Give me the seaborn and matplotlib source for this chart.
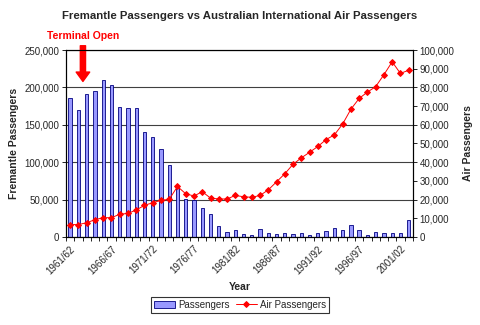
import matplotlib
matplotlib.use("Agg")
import matplotlib.pyplot as plt
import seaborn as sns
import numpy as np
import pandas as pd
from matplotlib.ticker import FuncFormatter, MultipleLocator, FixedLocator

years = [f"{y}/{str(y + 1)[-2:]}" for y in range(1961, 2003)]

passengers = [185300, 169800, 191100, 195600, 209800, 203100, 173800, 172000, 172000,
              140400, 134200, 117800, 96400, 67600, 51000, 49000, 39000, 30700,
              14200, 7100, 9300, 4400, 2700, 10200, 4900, 3600, 5800, 3600, 4900,
              3100, 4900, 8400, 12400, 9800, 15600, 9300, 3100, 7100, 4900, 4900,
              4900, 22200]

air_passengers = [6600, 6600, 7600, 9200, 10300, 10300, 12100, 12600, 14400, 16900,
                  18300, 19600, 20100, 27000, 23100, 21900, 24200, 20800, 20300, 20300,
                  22200, 21500, 21200, 22200, 25200, 29500, 33800, 38900, 42300, 45300,
                  48400, 52100, 54600, 60400, 68300, 74100, 77500, 80400, 86800, 93700,
                  87500, 89200]

df = pd.DataFrame({"Year": years, "Passengers": passengers,
                   "Air Passengers": air_passengers, "pos": np.arange(len(years))})

sns.set_style("white")
plt.rcParams['font.family'] = ['Liberation Sans', 'DejaVu Sans']

fig = plt.figure(figsize=(4.8, 3.25), dpi=100)
ax = fig.add_axes([0.1375, 0.271, 0.7225, 0.575])

sns.barplot(data=df, x="Year", y="Passengers", ax=ax, color="#9999FF",
            edgecolor="#000080", linewidth=0.6, width=0.4, saturation=1,
            label="Passengers")
ax.set_xlim(-0.5, len(years) - 0.5)
ax.set_ylim(0, 250000)
ax.yaxis.set_major_locator(MultipleLocator(50000))
ax.yaxis.set_major_formatter(FuncFormatter(lambda v, p: f"{int(v):,}"))
ax.grid(axis="y", color="#404040", linewidth=0.8)
ax.set_axisbelow(True)

ax2 = ax.twinx()
sns.lineplot(data=df, x="pos", y="Air Passengers", ax=ax2, color="#FF0000",
             linewidth=0.7, marker="D", markersize=3, markeredgecolor="#FF0000",
             label="Air Passengers")
ax2.set_ylim(0, 100000)
ax2.yaxis.set_major_locator(MultipleLocator(10000))
ax2.yaxis.set_major_formatter(FuncFormatter(lambda v, p: f"{int(v):,}"))
ax2.set_xlim(-0.5, len(years) - 0.5)

ax.set_xticks(range(len(years)))
ax.set_xticklabels([y if i % 5 == 0 else "" for i, y in enumerate(years)],
                   rotation=45, ha="right", rotation_mode="anchor", fontsize=7)
ax.xaxis.set_minor_locator(FixedLocator(np.arange(-0.5, len(years), 1.0)))
for a in (ax, ax2):
    for s in a.spines.values():
        s.set_color("#000000")
        s.set_linewidth(0.8)
    a.tick_params(axis="both", which="major", length=3, width=0.6, color="black",
                  labelsize=7, direction="out", pad=2)
ax.tick_params(axis="x", which="major", length=0, pad=5)
ax.tick_params(axis="x", which="minor", length=3, width=0.6, color="black", bottom=True)
ax.tick_params(axis="y", left=True)
ax2.tick_params(axis="y", right=True)

ax.set_xlabel("Year", fontsize=7.5, fontweight="bold", labelpad=4)
ax.set_ylabel("Fremantle Passengers", fontsize=7.5, fontweight="bold", labelpad=4)
ax2.set_ylabel("Air Passengers", fontsize=7.5, fontweight="bold", labelpad=6)

if ax2.get_legend():
    ax2.get_legend().remove()
if ax.get_legend():
    ax.get_legend().remove()

fig.suptitle("Fremantle Passengers vs Australian International Air Passengers",
             x=0.5, y=0.965, fontsize=8.2, fontweight="bold")

ax.annotate("Terminal Open", xy=(1.55, 208000), xytext=(1.55, 262000),
            ha="center", va="bottom", color="#FF0000", fontsize=7.5, fontweight="bold",
            annotation_clip=False,
            arrowprops=dict(arrowstyle="simple,head_width=1.3,head_length=0.9,tail_width=0.5",
                            color="#FF0000", shrinkA=1, shrinkB=0))

h1, l1 = ax.get_legend_handles_labels()
h2, l2 = ax2.get_legend_handles_labels()
leg = fig.legend(h1 + h2, l1 + l2, loc="center", bbox_to_anchor=(0.5, 0.062), ncol=2,
                 fontsize=7, frameon=True, fancybox=False, edgecolor="black",
                 handlelength=2.2, handletextpad=0.3, columnspacing=0.6,
                 borderpad=0.3)
leg.get_frame().set_linewidth(0.8)

fig.savefig("out.png", dpi=100)
